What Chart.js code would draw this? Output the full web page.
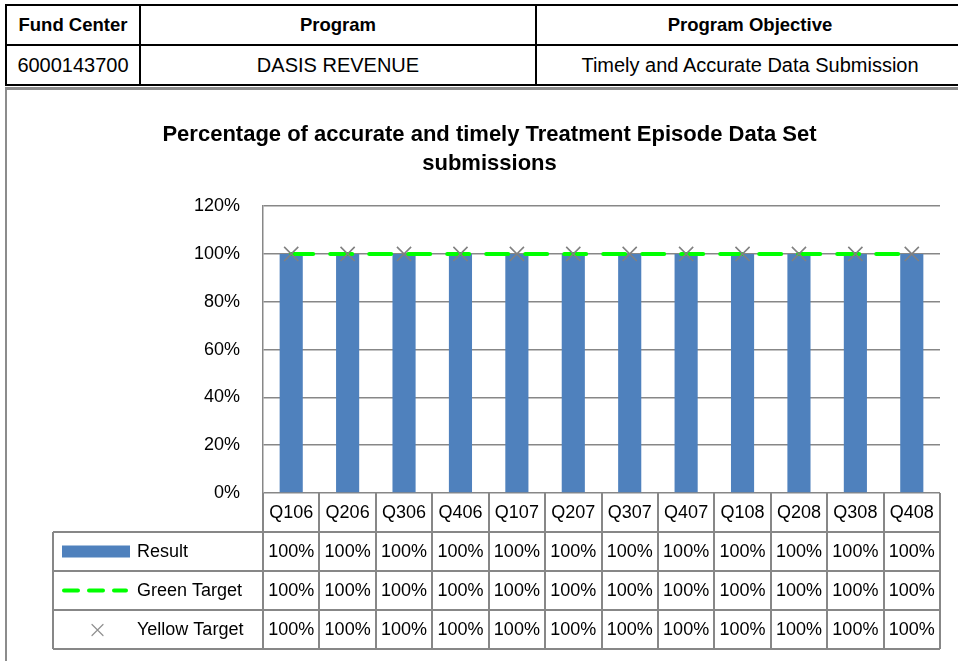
<!DOCTYPE html>
<html>
<head>
<meta charset="utf-8">
<script src="https://cdn.jsdelivr.net/npm/chart.js@4.4.1/dist/chart.umd.min.js"></script>
<style>
  body { margin: 0; background: #fff; font-family: "Liberation Sans", Arial, sans-serif; }
  #hdr { position: absolute; left: 5px; top: 4px; width: 960px; border-collapse: collapse; }
  #hdr td { border: 2px solid #000; height: 38px; font-size: 20px; text-align: center; padding: 0; }
  #hdr tr:first-child td { font-weight: bold; font-size: 18.5px; }
  #frame { position: absolute; left: 5px; top: 87px; width: 953px; height: 574px;
           border-top: 3px solid #8c8c8c; border-left: 2px solid #8c8c8c; }
  #wrap { position: absolute; left: 8px; top: 91px; width: 950px; height: 570px; }
</style>
</head>
<body>
<table id="hdr">
  <tr><td style="width:132px">Fund Center</td><td style="width:394px">Program</td><td>Program Objective</td></tr>
  <tr><td>6000143700</td><td>DASIS REVENUE</td><td>Timely and Accurate Data Submission</td></tr>
</table>
<div id="frame"></div>
<div id="wrap"><canvas id="chart"></canvas></div>
<script>
// ---------------- Data ----------------
const quarters = ['Q106', 'Q206', 'Q306', 'Q406', 'Q107', 'Q207', 'Q307', 'Q407', 'Q108', 'Q208', 'Q308', 'Q408'];
const result = [1, 1, 1, 1, 1, 1, 1, 1, 1, 1, 1, 1];
const greenTarget = [1, 1, 1, 1, 1, 1, 1, 1, 1, 1, 1, 1];
const yellowTarget = [1, 1, 1, 1, 1, 1, 1, 1, 1, 1, 1, 1];
const yTicks = [0, 0.2, 0.4, 0.6, 0.8, 1.0, 1.2];

const FONT = '"Liberation Sans", Arial, sans-serif';
const GRID = '#878787';
const ROW_H = 39;

const pct = v => Math.round(v * 100) + '%';

// data table under the plot, drawn with the x scale's own column positions
const dataTable = {
  id: 'dataTable',
  afterDraw(chart) {
    const ctx = chart.ctx;
    const x = chart.scales.x;
    const area = chart.chartArea;
    const colW = (area.right - area.left) / quarters.length;
    const top = area.bottom;
    const legLeft = 45;
    const rows = [
      { name: 'Result', vals: result },
      { name: 'Green Target', vals: greenTarget },
      { name: 'Yellow Target', vals: yellowTarget }
    ];
    const bottom = top + ROW_H * (rows.length + 1);
    ctx.save();
    ctx.strokeStyle = GRID;
    ctx.lineWidth = 2;
    ctx.beginPath();
    for (let i = 0; i <= quarters.length; i++) {
      const px = Math.round(area.left + i * colW);
      ctx.moveTo(px, top);
      ctx.lineTo(px, bottom);
    }
    ctx.moveTo(legLeft, top + ROW_H);
    ctx.lineTo(legLeft, bottom);
    for (let r = 1; r <= rows.length + 1; r++) {
      const py = top + r * ROW_H;
      ctx.moveTo(legLeft, py);
      ctx.lineTo(area.right, py);
    }
    ctx.stroke();

    ctx.fillStyle = '#000';
    ctx.font = '18px ' + FONT;
    ctx.textAlign = 'center';
    ctx.textBaseline = 'middle';
    quarters.forEach((q, i) => {
      const cx = x.getPixelForValue(i);
      ctx.fillText(q, cx, top + ROW_H / 2 + 1);
      rows.forEach((row, r) => {
        ctx.fillText(pct(row.vals[i]), cx, top + (r + 1.5) * ROW_H + 1);
      });
    });

    // legend keys
    ctx.textAlign = 'left';
    rows.forEach((row, r) => {
      const cy = top + (r + 1.5) * ROW_H;
      ctx.fillText(row.name, 129, cy + 1);
    });
    let cy = top + 1.5 * ROW_H;
    ctx.fillStyle = '#4F81BD';
    ctx.fillRect(54, cy - 6, 68, 12);
    cy += ROW_H;
    ctx.strokeStyle = '#00FF00';
    ctx.lineWidth = 4;
    ctx.lineCap = 'round';
    ctx.setLineDash([14, 11]);
    ctx.beginPath();
    ctx.moveTo(56, cy);
    ctx.lineTo(118, cy);
    ctx.stroke();
    ctx.setLineDash([]);
    cy += ROW_H;
    ctx.strokeStyle = '#909090';
    ctx.lineWidth = 1.2;
    ctx.beginPath();
    ctx.moveTo(84, cy - 5); ctx.lineTo(95, cy + 6);
    ctx.moveTo(95, cy - 5); ctx.lineTo(84, cy + 6);
    ctx.stroke();
    ctx.restore();
  }
};

new Chart(document.getElementById('chart'), {
  data: {
    labels: quarters,
    datasets: [
      {
        type: 'line', label: 'Yellow Target', data: yellowTarget, order: 1,
        showLine: false, pointStyle: 'crossRot', pointRadius: 10, pointHoverRadius: 10,
        borderColor: '#808080', borderWidth: 1.6, backgroundColor: '#808080'
      },
      {
        type: 'line', label: 'Green Target', data: greenTarget, order: 2,
        borderColor: '#00FF00', borderWidth: 4, borderDash: [22, 17], borderCapStyle: 'round',
        pointRadius: 0, fill: false
      },
      {
        type: 'bar', label: 'Result', data: result, order: 3,
        backgroundColor: '#4F81BD', barPercentage: 0.41, categoryPercentage: 1
      }
    ]
  },
  options: {
    responsive: true,
    maintainAspectRatio: false,
    animation: false,
    layout: { padding: { left: 31, right: 18, top: 0, bottom: 12 } },
    plugins: {
      legend: { display: false },
      tooltip: { enabled: false },
      title: {
        display: true,
        text: ['Percentage of accurate and timely Treatment Episode Data Set', 'submissions'],
        color: '#000',
        font: { family: FONT, size: 22, weight: 'bold', lineHeight: 1.32 },
        padding: { top: 29, bottom: 28 }
      }
    },
    scales: {
      x: {
        grid: { display: false, drawTicks: false },
        border: { display: false },
        ticks: { display: false },
        afterFit: s => { s.height = ROW_H * 4; }
      },
      y: {
        min: 0, max: 1.2,
        afterBuildTicks: s => { s.ticks = yTicks.map(v => ({ value: v })); },
        afterFit: s => { s.width = 224; },
        grid: { color: GRID, lineWidth: 1.5, drawTicks: false },
        border: { color: GRID, width: 1.5 },
        ticks: {
          padding: 23, color: '#000',
          font: { family: FONT, size: 18 },
          callback: v => Math.round(v * 100) + '%'
        }
      }
    }
  },
  plugins: [dataTable]
});
</script>
</body>
</html>
